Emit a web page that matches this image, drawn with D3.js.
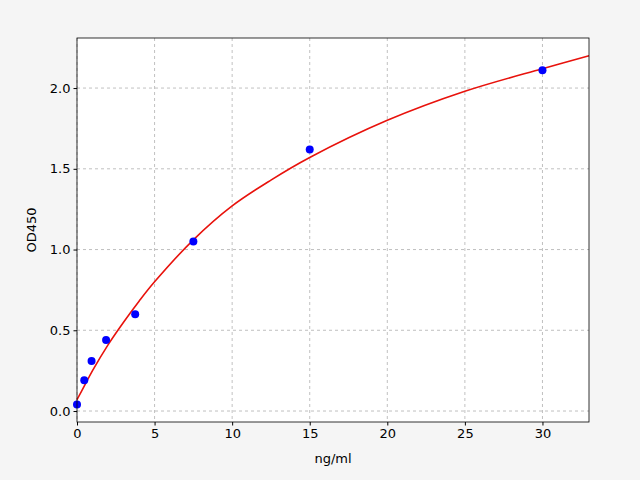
<!DOCTYPE html>
<html><head><meta charset="utf-8">
<script src="https://cdn.jsdelivr.net/npm/d3@7"></script>
<style>body{margin:0;background:#f5f5f5}</style></head>
<body><svg id="c" width="640" height="480"></svg>
<script>
const pointX=[0,0.469,0.938,1.875,3.75,7.5,15,30];
const pointY=[0.04,0.19,0.31,0.44,0.6,1.05,1.62,2.11];
const curveX=[0,0.5,1,2,3,4,5,7.5,10,12.5,15,20,25,30,33];
const curveY=[0.07,0.16,0.25,0.41,0.55,0.68,0.80,1.06,1.27,1.43,1.57,1.80,1.98,2.12,2.20];
const xTicks=[0,5,10,15,20,25,30];
const yTicks=[0,0.5,1,1.5,2];
const svg=d3.select("#c");
svg.append("rect").attr("width",640).attr("height",480).attr("fill","#f5f5f5");
const L=77,R=589,T=38,B=422;
const x=d3.scaleLinear().domain([0,33]).range([L,R]);
const y=d3.scaleLinear().domain([-0.068,2.31]).range([B,T]);
svg.append("rect").attr("x",L).attr("y",T).attr("width",R-L).attr("height",B-T).attr("fill","#fff");
const g=svg.append("g");
xTicks.forEach(t=>g.append("line").attr("x1",x(t)).attr("x2",x(t)).attr("y1",T).attr("y2",B).attr("stroke","#b0b0b0").attr("stroke-dasharray","3,3").attr("stroke-width",0.8));
yTicks.forEach(t=>g.append("line").attr("y1",y(t)).attr("y2",y(t)).attr("x1",L).attr("x2",R).attr("stroke","#b0b0b0").attr("stroke-dasharray","3,3").attr("stroke-width",0.8));
const ax=svg.append("g").attr("transform",`translate(0,${B})`).call(d3.axisBottom(x).tickValues(xTicks).tickFormat(d3.format("d")).tickSizeOuter(0).tickSize(3.5));
const ay=svg.append("g").attr("transform",`translate(${L},0)`).call(d3.axisLeft(y).tickValues(yTicks).tickFormat(d3.format(".1f")).tickSizeOuter(0).tickSize(3.5));
[ax,ay].forEach(a=>{a.selectAll("text").attr("font-family","DejaVu Sans").attr("font-size",13).attr("fill","#000");a.select(".domain").remove();});
svg.append("path").datum(curveX.map((v,i)=>[v,curveY[i]])).attr("fill","none").attr("stroke","#e8120c").attr("stroke-width",1.6)
 .attr("d",d3.line().x(d=>x(d[0])).y(d=>y(d[1])).curve(d3.curveCatmullRom));
svg.append("g").selectAll("circle").data(pointX).join("circle").attr("cx",d=>x(d)).attr("cy",(d,i)=>y(pointY[i])).attr("r",4).attr("fill","#0000ff");
svg.append("rect").attr("x",L).attr("y",T).attr("width",R-L).attr("height",B-T).attr("fill","none").attr("stroke","#000").attr("stroke-width",0.8);
svg.append("text").attr("x",(L+R)/2).attr("y",463).attr("text-anchor","middle").attr("font-family","DejaVu Sans").attr("font-size",13).text("ng/ml");
svg.append("text").attr("transform",`translate(36,${(T+B)/2}) rotate(-90)`).attr("text-anchor","middle").attr("font-family","DejaVu Sans").attr("font-size",13).text("OD450");
</script></body></html>
